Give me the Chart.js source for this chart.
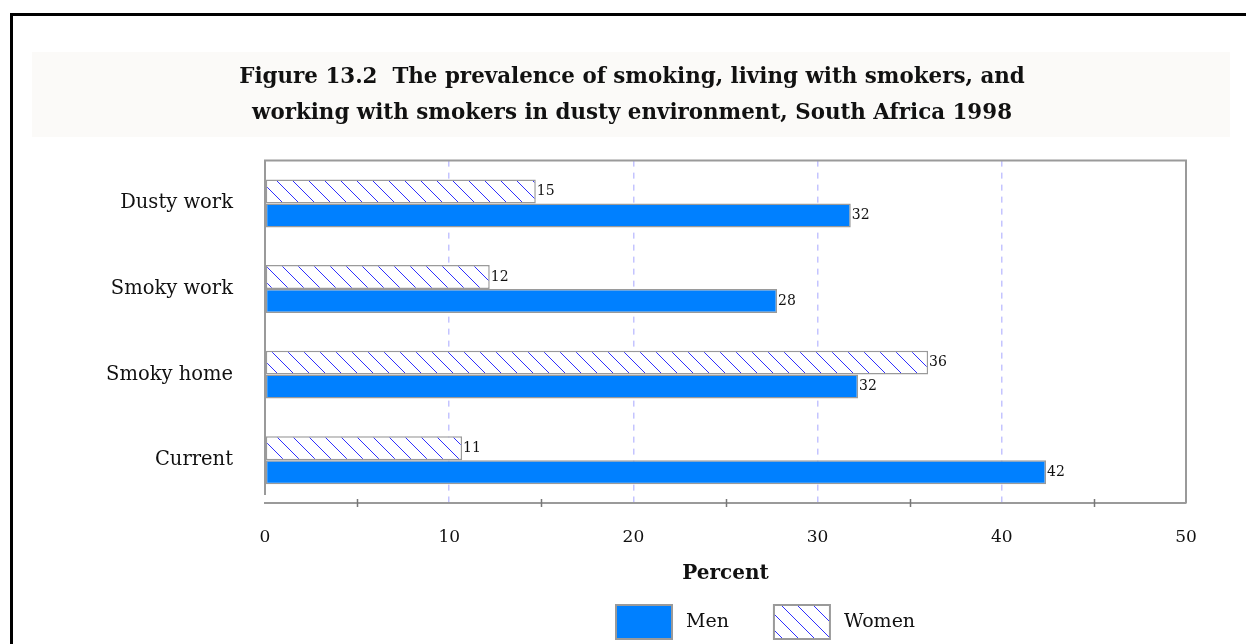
<!DOCTYPE html>
<html>
<head>
<meta charset="utf-8">
<title>Smoking prevalence, South Africa 1998</title>
<script src="https://cdn.jsdelivr.net/npm/chart.js@4.4.1/dist/chart.umd.min.js"></script>
<style>
    html, body { margin: 0; padding: 0; background: #fff; }
    body { width: 1246px; height: 644px; position: relative; overflow: hidden; }
    .frame { position: absolute; left: 10px; top: 13px; width: 1260px; height: 660px; border: 3px solid #000; }
    .wrap { position: absolute; left: 0; top: 0; width: 1246px; height: 644px; }
</style>
</head>
<body>
<div class="frame"></div>
<div class="wrap"><canvas id="smokeChart"></canvas></div>
<script>
// Survey results, percent of adults
const categories = ['Dusty work', 'Smoky work', 'Smoky home', 'Current'];
const menValues = [31.8, 27.8, 32.2, 42.4];
const womenValues = [14.7, 12.2, 36.0, 10.7];
const xTickLabels = [0, 10, 20, 30, 40, 50];

const SERIF = '"DejaVu Serif", "Liberation Serif", serif';
const MEN_BLUE = '#0080ff';
const EDGE_GREY = '#9a9a9a';

// diagonal "\" hatching used for the women series
function makeHatch() {
    const size = 16;
    const c = document.createElement('canvas');
    c.width = size;
    c.height = size;
    const g = c.getContext('2d');
    g.fillStyle = '#ffffff';
    g.fillRect(0, 0, size, size);
    g.strokeStyle = '#2f2fff';
    g.lineWidth = 1;
    g.beginPath();
    g.moveTo(-1, -1); g.lineTo(size + 1, size + 1);
    g.moveTo(-1, size - 1); g.lineTo(1, size + 1);
    g.moveTo(size - 1, -1); g.lineTo(size + 1, 1);
    g.stroke();
    return g.createPattern(c, 'repeat');
}
const womenHatch = makeHatch();

// title band and plot frame
const framePlugin = {
    id: 'framePlugin',
    beforeDraw(chart) {
        const ctx = chart.ctx;
        ctx.save();
        ctx.fillStyle = '#fbfaf8';
        ctx.fillRect(32, 52, 1198, 85);
        ctx.restore();
    },
    afterDraw(chart) {
        const { ctx, chartArea: a, scales: { x } } = chart;
        ctx.save();
        ctx.strokeStyle = EDGE_GREY;
        ctx.lineWidth = 2;
        ctx.beginPath();
        ctx.moveTo(a.left, a.bottom - 8);
        ctx.lineTo(a.left, a.top);
        ctx.lineTo(a.right, a.top);
        ctx.lineTo(a.right, a.bottom);
        ctx.stroke();
        // small tick marks on the value axis
        ctx.strokeStyle = '#777';
        ctx.lineWidth = 1.5;
        ctx.beginPath();
        for (let v = 5; v < 50; v += 10) {
            const px = Math.round(x.getPixelForValue(v)) + 0.5;
            ctx.moveTo(px, a.bottom - 4);
            ctx.lineTo(px, a.bottom + 4);
        }
        ctx.stroke();
        ctx.restore();
    }
};

// value printed at the end of each bar
const valueLabels = {
    id: 'valueLabels',
    afterDatasetsDraw(chart) {
        const ctx = chart.ctx;
        ctx.save();
        ctx.font = '14px ' + SERIF;
        ctx.fillStyle = '#111';
        ctx.textAlign = 'left';
        ctx.textBaseline = 'middle';
        chart.data.datasets.forEach((ds, i) => {
            chart.getDatasetMeta(i).data.forEach((bar, j) => {
                ctx.fillText(Math.round(ds.data[j]).toString(), bar.x + 1, bar.y);
            });
        });
        ctx.restore();
    }
};

// legend boxes below the axis title
const boxLegend = {
    id: 'boxLegend',
    afterDraw(chart) {
        const ctx = chart.ctx;
        const items = [chart.data.datasets[1], chart.data.datasets[0]];
        const boxW = 56, boxH = 34, top = 605;
        let left = 616;
        ctx.save();
        ctx.font = '19px ' + SERIF;
        ctx.textBaseline = 'middle';
        items.forEach(ds => {
            ctx.fillStyle = ds.backgroundColor;
            ctx.fillRect(left, top, boxW, boxH);
            ctx.strokeStyle = EDGE_GREY;
            ctx.lineWidth = 2;
            ctx.strokeRect(left, top, boxW, boxH);
            ctx.fillStyle = '#111';
            ctx.fillText(ds.label, left + boxW + 14, top + boxH / 2);
            left += boxW + 14 + ctx.measureText(ds.label).width + 45;
        });
        ctx.restore();
    }
};

new Chart(document.getElementById('smokeChart'), {
    type: 'bar',
    data: {
        labels: categories,
        datasets: [
            {
                label: 'Women',
                data: womenValues,
                backgroundColor: womenHatch,
                borderColor: EDGE_GREY,
                borderWidth: 1.5,
                borderSkipped: false
            },
            {
                label: 'Men',
                data: menValues,
                backgroundColor: MEN_BLUE,
                borderColor: EDGE_GREY,
                borderWidth: 1.5,
                borderSkipped: false
            }
        ]
    },
    options: {
        indexAxis: 'y',
        responsive: true,
        maintainAspectRatio: false,
        animation: false,
        layout: { padding: { left: 78, right: 60, top: 0, bottom: 54 } },
        datasets: { bar: { barPercentage: 1, categoryPercentage: 0.56 } },
        plugins: {
            legend: { display: false },
            tooltip: { enabled: false },
            title: {
                display: true,
                text: [
                    'Figure 13.2  The prevalence of smoking, living with smokers, and',
                    'working with smokers in dusty environment, South Africa 1998'
                ],
                color: '#111',
                font: { family: SERIF, size: 21.4, weight: 'bold', lineHeight: 1.65 },
                padding: { top: 60, bottom: 30 }
            }
        },
        scales: {
            x: {
                min: 0,
                max: 50,
                ticks: {
                    stepSize: 5,
                    padding: 24,
                    color: '#111',
                    font: { family: SERIF, size: 17 },
                    callback: v => xTickLabels.includes(v) ? v : ''
                },
                grid: {
                    drawTicks: false,
                    lineWidth: 1.5,
                    color: c => (c.tick && c.tick.value % 10 === 0 && c.tick.value > 0 && c.tick.value < 50)
                        ? '#c4c4ff' : 'rgba(0,0,0,0)'
                },
                border: { display: true, color: EDGE_GREY, width: 2, dash: [6, 6] },
                title: {
                    display: true,
                    text: 'Percent',
                    color: '#111',
                    font: { family: SERIF, size: 20, weight: 'bold', lineHeight: 1.2 },
                    padding: { top: 4, bottom: 4 }
                },
                afterFit(scale) { scale.height = 87; }
            },
            y: {
                ticks: {
                    padding: 24,
                    color: '#111',
                    font: { family: SERIF, size: 19.5 }
                },
                grid: { display: false },
                border: { display: false },
                afterFit(scale) { scale.width = 187; }
            }
        }
    },
    plugins: [framePlugin, valueLabels, boxLegend]
});
</script>
</body>
</html>
